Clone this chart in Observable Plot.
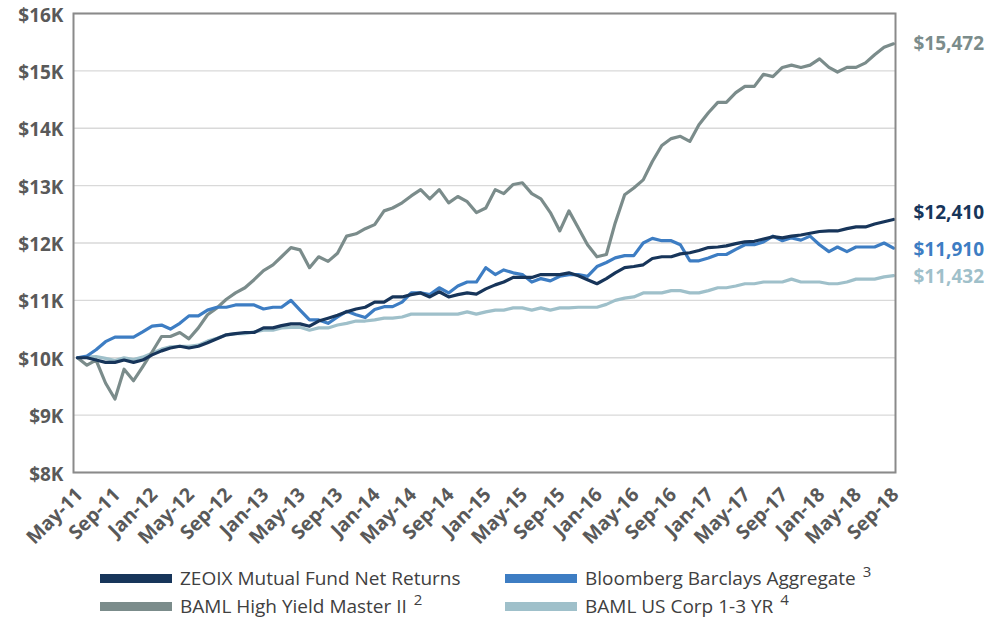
<!DOCTYPE html>
<html><head><meta charset="utf-8">
<script src="https://cdn.jsdelivr.net/npm/d3@7"></script>
<script src="https://cdn.jsdelivr.net/npm/@observablehq/plot@0.6"></script>
<style>
body{margin:0;background:#fff;font-family:"Open Sans",sans-serif;}
#wrap{position:relative;width:1003px;height:618px;overflow:hidden;}
.leg{position:absolute;display:flex;align-items:center;font-size:19px;line-height:1;color:#404040;white-space:nowrap;height:20px;}
.sw{width:72px;height:9px;margin-right:8px;}
.sup{font-size:15px;line-height:1;position:relative;top:-7px;margin-left:7px;}
</style></head><body><div id="wrap"><div id="chart"></div><div id="legend"></div></div>
<script>
// Series names (legend labels) and superscript notes
const seriesNames = ["ZEOIX Mutual Fund Net Returns","Bloomberg Barclays Aggregate","BAML High Yield Master II","BAML US Corp 1-3 YR"];
const seriesNotes = ["", "3", "2", "4"];
const seriesColors = ["#17355a","#3d7dc3","#7b8c8b","#9fc0ca"];

// Monthly growth of $10K (in $ thousands), May-11 .. Sep-18 (89 months)
const zeoix = [10.00,10.00,9.96,9.92,9.92,9.96,9.92,9.96,10.05,10.12,
10.17,10.20,10.17,10.20,10.26,10.33,10.40,10.42,10.44,10.44,
10.52,10.52,10.56,10.59,10.59,10.55,10.64,10.69,10.74,10.80,
10.85,10.88,10.97,10.97,11.06,11.06,11.10,11.13,11.06,11.15,
11.06,11.10,11.13,11.11,11.20,11.27,11.32,11.40,11.40,11.40,
11.45,11.45,11.45,11.48,11.43,11.36,11.29,11.38,11.48,11.57,
11.59,11.62,11.73,11.76,11.76,11.81,11.83,11.87,11.92,11.93,
11.95,11.99,12.02,12.03,12.07,12.11,12.09,12.12,12.14,12.17,
12.20,12.21,12.21,12.25,12.28,12.28,12.33,12.37,12.410];
const barclaysAgg = [10.00,10.03,10.14,10.28,10.36,10.36,10.36,10.45,10.55,10.57,
10.50,10.60,10.73,10.73,10.83,10.88,10.88,10.92,10.92,10.92,
10.85,10.88,10.88,11.00,10.83,10.66,10.66,10.60,10.71,10.81,
10.75,10.70,10.84,10.89,10.89,10.97,11.13,11.13,11.10,11.22,
11.13,11.25,11.32,11.32,11.57,11.45,11.53,11.48,11.45,11.32,
11.38,11.34,11.42,11.45,11.45,11.42,11.59,11.66,11.74,11.78,
11.78,12.00,12.08,12.04,12.04,11.97,11.69,11.69,11.74,11.80,
11.80,11.89,11.97,11.97,12.02,12.12,12.04,12.09,12.05,12.12,
11.97,11.85,11.93,11.85,11.93,11.93,11.93,12.00,11.910];
const highYield = [10.00,9.87,9.96,9.56,9.28,9.80,9.60,9.84,10.10,10.37,
10.37,10.44,10.33,10.52,10.75,10.87,11.02,11.13,11.22,11.36,
11.52,11.62,11.76,11.92,11.88,11.57,11.76,11.68,11.82,12.12,
12.16,12.25,12.32,12.56,12.61,12.70,12.82,12.93,12.77,12.93,
12.70,12.81,12.72,12.53,12.61,12.93,12.86,13.02,13.05,12.86,
12.77,12.53,12.21,12.56,12.26,11.97,11.76,11.80,12.35,12.84,
12.96,13.10,13.42,13.70,13.82,13.86,13.77,14.06,14.27,14.45,
14.45,14.62,14.73,14.73,14.94,14.90,15.06,15.10,15.06,15.10,
15.21,15.06,14.98,15.06,15.06,15.14,15.28,15.41,15.472];
const corp13 = [10.00,10.01,10.02,9.99,9.95,10.00,9.97,10.01,10.08,10.15,
10.19,10.20,10.20,10.22,10.29,10.34,10.40,10.42,10.42,10.45,
10.48,10.48,10.52,10.53,10.53,10.48,10.52,10.52,10.57,10.60,
10.64,10.64,10.66,10.69,10.69,10.71,10.76,10.76,10.76,10.76,
10.76,10.76,10.80,10.76,10.80,10.83,10.83,10.87,10.87,10.83,
10.87,10.83,10.87,10.87,10.88,10.88,10.88,10.93,11.00,11.04,
11.06,11.13,11.13,11.13,11.17,11.17,11.13,11.13,11.17,11.22,
11.22,11.25,11.29,11.29,11.32,11.32,11.32,11.37,11.32,11.32,
11.32,11.29,11.29,11.32,11.37,11.37,11.37,11.41,11.432];

const seriesValues = [zeoix, barclaysAgg, highYield, corp13];
const yTicks = [8,9,10,11,12,13,14,15,16];

const months = d3.utcMonths(new Date(Date.UTC(2011,4,1)), new Date(Date.UTC(2018,9,1)));
const tickMonths = months.filter((d,i) => i % 4 === 0);

// draw order: light blue, gray, blue, navy (navy on top)
const drawOrder = [3,2,1,0];
const data = drawOrder.flatMap(k => seriesValues[k].map((v,i) => ({date: months[i], value: v, series: seriesNames[k]})));
const ends = seriesNames.map((s,k) => ({date: months[months.length-1], value: seriesValues[k][seriesValues[k].length-1], series: s}));
const fmt = v => "$" + d3.format(",")(Math.round(v*1000));

const endLabel = (k, dy) => Plot.text(ends.filter(d => d.series === seriesNames[k]), {
  x: "date", y: "value", text: d => fmt(d.value), fill: seriesColors[k],
  dx: 20, dy, textAnchor: "start", fontSize: 19, fontWeight: "bold"
});

const plot = Plot.plot({
  width: 1003, height: 556,
  marginLeft: 73, marginRight: 108, marginTop: 13, marginBottom: 84,
  style: {fontFamily: '"Open Sans", sans-serif', background: "#fff"},
  x: {type: "utc", domain: [months[0], months[months.length-1]], insetLeft: 4, insetRight: 2, label: null},
  y: {domain: [8, 16], label: null},
  color: {domain: seriesNames, range: seriesColors},
  marks: [
    Plot.gridY(yTicks, {stroke: "#d9d9d9", strokeOpacity: 1, strokeWidth: 1.3}),
    Plot.line(data, {x: "date", y: "value", z: "series", stroke: "series", strokeWidth: 3.2, curve: "linear"}),
    Plot.frame({stroke: "#8a8a8a", strokeWidth: 2}),
    Plot.axisY(yTicks, {tickSize: 0, tickPadding: 10, fontSize: 19, fontWeight: "bold", fill: "#595959", dy: 2, label: null, tickFormat: d => `$${d}K`}),
    Plot.axisX(tickMonths, {tickSize: 0, tickPadding: 19, tickRotate: -45, fontSize: 19.5, fontWeight: "bold", fill: "#595959", dx: 2, label: null, tickFormat: d3.utcFormat("%b-%y")}),
    endLabel(2, 0), endLabel(0, -7), endLabel(1, 2), endLabel(3, 1)
  ]
});
document.getElementById("chart").appendChild(plot);

// legend below the SVG
const legendPos = [[100,568],[505,568],[100,596],[505,596]];
const leg = document.getElementById("legend");
seriesNames.forEach((s,k) => {
  const el = document.createElement("div");
  el.className = "leg";
  el.style.left = legendPos[k][0] + "px";
  el.style.top = legendPos[k][1] + "px";
  el.innerHTML = `<span class="sw" style="background:${seriesColors[k]}"></span><span>${s}</span>` + (seriesNotes[k] ? `<span class="sup">${seriesNotes[k]}</span>` : "");
  leg.appendChild(el);
});
</script></body></html>
